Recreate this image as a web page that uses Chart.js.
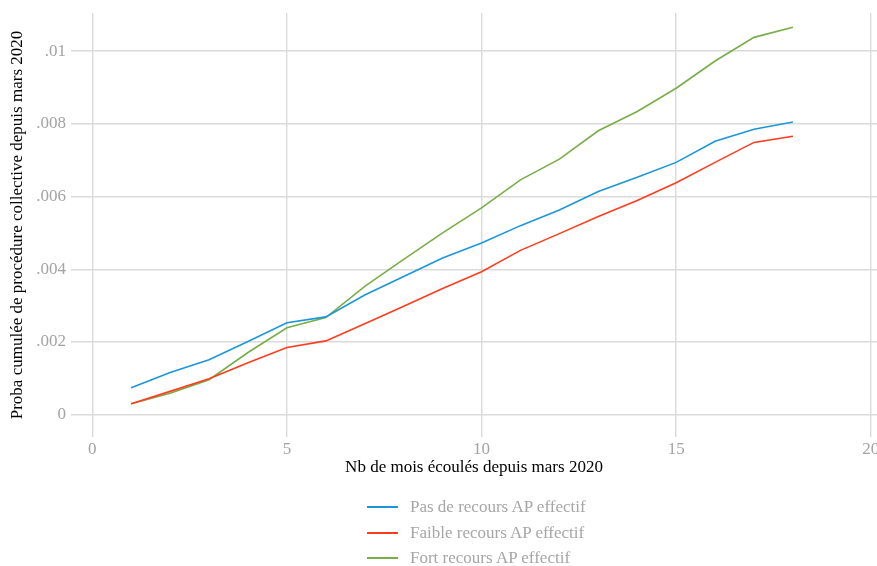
<!DOCTYPE html>
<html lang="fr">
<head>
<meta charset="utf-8">
<title>Proba cumulée de procédure collective</title>
<script src="https://cdn.jsdelivr.net/npm/chart.js@4/dist/chart.umd.min.js"></script>
<style>
  html, body { margin: 0; padding: 0; background: #fff; }
  .wrap { position: relative; width: 877px; height: 566px; overflow: hidden; }
  .legend-wrapper { position: absolute; left: 367px; top: 494px; font-family: "Liberation Serif", "Times New Roman", serif; font-size: 17px; color: #a6a6a6; }
  .legend-item { display: flex; align-items: center; height: 25.8px; }
  .legend-line { display: inline-block; width: 31px; height: 2px; margin-right: 12px; }
</style>
</head>
<body>
<div class="wrap">
  <canvas id="procChart" width="877" height="566"></canvas>
  <div class="legend-wrapper"></div>
</div>
<script>
// months elapsed since March 2020
const months = [1, 2, 3, 4, 5, 6, 7, 8, 9, 10, 11, 12, 13, 14, 15, 16, 17, 18];

const pasRecours = [0.00074, 0.00116, 0.00151, 0.00201, 0.00253, 0.00269, 0.00329, 0.00380, 0.00431,
  0.00472, 0.00520, 0.00563, 0.00614, 0.00653, 0.00694, 0.00752, 0.00785, 0.00805];
const faibleRecours = [0.00030, 0.00064, 0.00099, 0.00143, 0.00185, 0.00203, 0.00250, 0.00298, 0.00347,
  0.00393, 0.00452, 0.00498, 0.00545, 0.00589, 0.00638, 0.00694, 0.00749, 0.00766];
const fortRecours = [0.00030, 0.00059, 0.00096, 0.00171, 0.00239, 0.00267, 0.00353, 0.00427, 0.00500,
  0.00569, 0.00646, 0.00703, 0.00781, 0.00834, 0.00898, 0.00973, 0.01038, 0.01066];

const seriesNames = ["Pas de recours AP effectif", "Faible recours AP effectif", "Fort recours AP effectif"];
const seriesColors = ["#1b96d8", "#ff3c1c", "#79ad48"];

const xTicks = [0, 5, 10, 15, 20];
const yTicks = [0, 0.002, 0.004, 0.006, 0.008, 0.01];
const yTickLabels = ["0", ".002", ".004", ".006", ".008", ".01"];

const serif = "'Liberation Serif', 'Times New Roman', serif";

function toPoints(values) {
  return values.map((v, i) => ({ x: months[i], y: v }));
}

const allSeries = [pasRecours, faibleRecours, fortRecours];

document.addEventListener("DOMContentLoaded", function () {
  const ctx = document.getElementById("procChart");

  new Chart(ctx, {
    type: "line",
    data: {
      datasets: allSeries.map((values, i) => ({
        label: seriesNames[i],
        data: toPoints(values),
        borderColor: seriesColors[i],
        backgroundColor: seriesColors[i],
        borderWidth: 1.6,
        pointRadius: 0,
        tension: 0,
        fill: false,
      })),
    },
    options: {
      responsive: false,
      animation: false,
      layout: {
        padding: { top: 13, bottom: 84, left: 0, right: 0 },
      },
      plugins: {
        legend: { display: false },
        tooltip: { enabled: false },
      },
      scales: {
        x: {
          type: "linear",
          min: -0.547,
          max: 20.16,
          afterBuildTicks: function (scale) {
            scale.ticks = xTicks.map((v) => ({ value: v }));
          },
          afterFit: function (scale) {
            scale.height = 45;
            // let the "20" label run off the edge instead of shrinking the plot
            scale.paddingLeft = 0;
            scale.paddingRight = 0;
          },
          border: { display: false },
          grid: { color: "#dadada", lineWidth: 1.4, drawTicks: false },
          ticks: {
            padding: 2,
            color: "#a3a3a3",
            font: { family: serif, size: 17 },
            maxRotation: 0,
          },
          title: {
            display: true,
            text: "Nb de mois écoulés depuis mars 2020",
            color: "#000",
            font: { family: serif, size: 17 },
            padding: { top: 0, bottom: 4 },
          },
        },
        y: {
          min: -0.000615,
          max: 0.01105,
          afterBuildTicks: function (scale) {
            scale.ticks = yTicks.map((v) => ({ value: v }));
          },
          afterFit: function (scale) {
            scale.width = 71;
            scale.paddingTop = 0;
            scale.paddingBottom = 0;
          },
          border: { display: false },
          grid: { color: "#dadada", lineWidth: 1.4, drawTicks: false },
          ticks: {
            padding: 5,
            color: "#a3a3a3",
            font: { family: serif, size: 17 },
            callback: function (value) {
              const idx = yTicks.indexOf(value);
              return idx >= 0 ? yTickLabels[idx] : "";
            },
          },
          title: {
            display: true,
            text: "Proba cumulée de procédure collective depuis mars 2020",
            color: "#000",
            font: { family: serif, size: 17 },
            padding: { top: 7, bottom: 0 },
          },
        },
      },
    },
  });

  buildLegend();
});

function buildLegend() {
  const legendContainer = document.querySelector(".legend-wrapper");
  legendContainer.innerHTML = "";
  seriesNames.forEach((name, i) => {
    const item = document.createElement("div");
    item.classList.add("legend-item");
    item.innerHTML = `
      <span class="legend-line" style="background-color: ${seriesColors[i]};"></span>
      <span class="legend-text">${name}</span>
    `;
    legendContainer.appendChild(item);
  });
}
</script>
</body>
</html>
